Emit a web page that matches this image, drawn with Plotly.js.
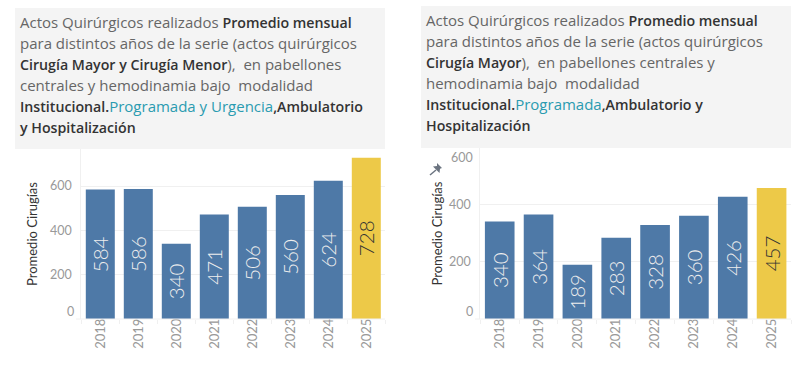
<!DOCTYPE html>
<html><head><meta charset="utf-8">
<script src="https://cdn.plot.ly/plotly-3.0.0.min.js"></script>
<style>html,body{margin:0;padding:0;background:#fff;overflow:hidden}</style>
</head><body><div id="chart" style="width:798px;height:380px"></div>
<script>
const years = ['2018','2019','2020','2021','2022','2023','2024','2025'];
const totalActs = [584,586,340,471,506,560,624,728];
const majorActs = [340,364,189,283,328,360,426,457];
const barColors = ['#4e79a7','#4e79a7','#4e79a7','#4e79a7','#4e79a7','#4e79a7','#4e79a7','#edc948'];
const labelColors = ['#eeeeee','#eeeeee','#eeeeee','#eeeeee','#eeeeee','#eeeeee','#eeeeee','#333333'];
const B = s => '<span style="color:#333333;font-weight:600;font-size:14.2px">'+s+'</span>';
const T = s => '<span style="color:#2a9bb0">'+s+'</span>';
const leftLines = [
 'Actos Quirúrgicos realizados '+B('Promedio mensual'),
 'para distintos años de la serie (actos quirúrgicos',
 B('Cirugía Mayor y Cirugía Menor')+'),  en pabellones',
 'centrales y hemodinamia bajo  modalidad',
 B('Institucional.')+T('Programada y Urgencia')+B(',Ambulatorio'),
 B('y Hospitalización')
];
const rightLines = [
 'Actos Quirúrgicos realizados '+B('Promedio mensual'),
 'para distintos años de la serie (actos quirúrgicos',
 B('Cirugía Mayor')+'),  en pabellones centrales y',
 'hemodinamia bajo  modalidad',
 B('Institucional.')+T('Programada')+B(',Ambulatorio y'),
 B('Hospitalización')
];
const W=798,H=380;
const px=x=>x/W, py=y=>1-y/H;
const FONT='Lato, "Open Sans", sans-serif';
const TEXTFONT='"Open Sans", Lato, sans-serif';
const GRID='#f0f0f0';

function bar(x,y,xa,ya){return {type:'bar',x:x,y:y,xaxis:xa,yaxis:ya,
  marker:{color:barColors,line:{width:0}},
  text:y.map(String),textposition:'inside',insidetextanchor:'middle',textangle:-90,
  textfont:{family:FONT,size:20.5,weight:300,color:labelColors},constraintext:'none',cliponaxis:false,hoverinfo:'x+y',showlegend:false};}
const data=[bar(years,totalActs,'x','y'),bar(years,majorActs,'x2','y2')];

const bounds=[-0.5,0.5,1.5,2.5,3.5,4.5,5.5,6.5,7.5];
function xa(d,anchor){return {domain:d,anchor:anchor,type:'category',range:[-0.5,7.5],fixedrange:true,
  tickmode:'array',tickvals:years,ticktext:years,tickangle:-90,ticklabelstandoff:-4,
  tickfont:{family:FONT,size:13,color:'#999999'},ticks:'',ticklen:0,showgrid:false,zeroline:false,
  showline:false,minor:{tickmode:'array',tickvals:bounds,ticks:'outside',ticklen:4,tickcolor:GRID,tickwidth:1,showgrid:false}};}
function ya(d,anchor,range,vals,title,standoff){return {domain:d,anchor:anchor,range:range,fixedrange:true,
  tickmode:'array',tickvals:vals,ticktext:vals.map(String),tickfont:{family:FONT,size:12.5,color:'#999999'},
  ticks:'outside',ticklen:6,tickcolor:'rgba(0,0,0,0)',
  showgrid:true,gridcolor:GRID,gridwidth:1,zeroline:false,showline:true,linecolor:GRID,linewidth:1,
  title:{text:title,font:{family:FONT,size:13,color:'#333333'},standoff:standoff}};}

const annotations=[];
function addLines(lines,x,ys){lines.forEach((t,i)=>annotations.push({xref:'paper',yref:'paper',x:px(x),y:py(ys[i]),
  text:t,showarrow:false,xanchor:'left',yanchor:'middle',align:'left',font:{family:TEXTFONT,size:15,color:'#666666'}}));}
addLines(leftLines,18,[22,43,64,85,106,127]);
addLines(rightLines,424,[20,41,62,83,104,125]);
const endTick=(text,xp,yp)=>annotations.push({xref:'paper',yref:'paper',x:px(xp),y:py(yp),text:text,showarrow:false,
  xanchor:'right',yanchor:'middle',font:{family:FONT,size:12.5,color:'#999999'}});
endTick('0',76,311); endTick('0',475,311); endTick('600',475,157);

const pin=[[437,163],[442,168],[440,168.8],[439.5,173],[433,166.5],[437,166]];
const shapes=[
 {type:'rect',xref:'paper',yref:'paper',x0:px(15),x1:px(385),y0:py(8),y1:py(149),fillcolor:'#f4f4f4',line:{width:0},layer:'below'},
 {type:'rect',xref:'paper',yref:'paper',x0:px(421),x1:px(791),y0:py(6),y1:py(148),fillcolor:'#f4f4f4',line:{width:0},layer:'below'},
 {type:'line',xref:'paper',yref:'paper',x0:px(76),x1:px(385),y0:py(319),y1:py(319),line:{color:GRID,width:1}},
 {type:'line',xref:'paper',yref:'paper',x0:px(475),x1:px(791),y0:py(319),y1:py(319),line:{color:GRID,width:1}},
 {type:'path',xref:'paper',yref:'paper',fillcolor:'#6b7480',line:{width:0},
  path:pin.map((p,i)=>(i?'L':'M')+px(p[0])+','+py(p[1])).join(' ')+' Z'},
 {type:'line',xref:'paper',yref:'paper',x0:px(430),x1:px(436),y0:py(175),y1:py(170),line:{color:'#6b7480',width:1.5}}
];

const layout={width:W,height:H,margin:{l:0,r:0,t:0,b:0},paper_bgcolor:'#fff',plot_bgcolor:'rgba(0,0,0,0)',
 bargap:0.237,font:{family:FONT},showlegend:false,
 xaxis:xa([px(81.3),px(385.3)],'y'),
 yaxis:ya([py(319),py(149)],'x',[0,767],[200,400,600],'Promedio Cirugías',9),
 xaxis2:xa([px(480.3),px(791)],'y2'),
 yaxis2:ya([py(319),py(148)],'x2',[0,596],[200,400],'Promedio Cirugías',3),
 annotations:annotations,shapes:shapes};
Plotly.newPlot('chart',data,layout,{displayModeBar:false,responsive:false});
</script></body></html>
